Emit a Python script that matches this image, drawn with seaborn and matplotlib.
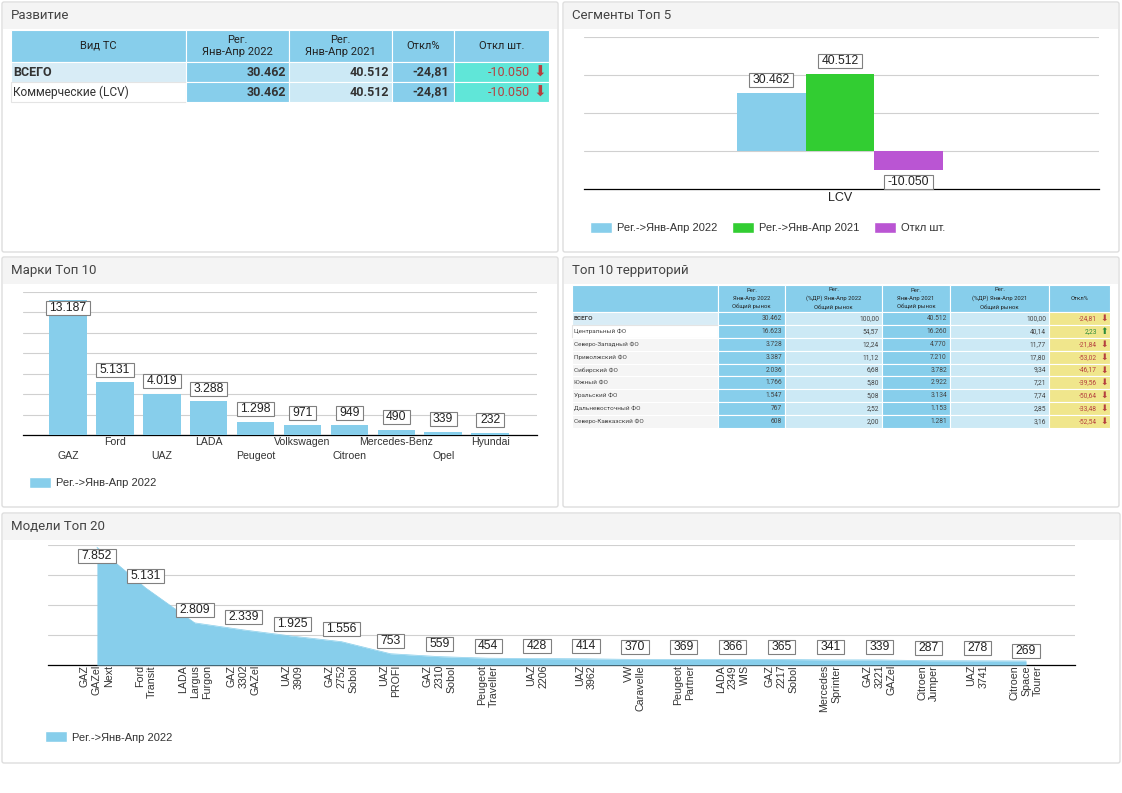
import matplotlib
matplotlib.use("Agg")
import matplotlib.pyplot as plt
from matplotlib.patches import Rectangle, Patch, FancyBboxPatch
from matplotlib.path import Path
import seaborn as sns
import pandas as pd

W, H = 1122, 793

# first table
dev_header = ["Вид ТС", "Рег.\nЯнв-Апр 2022", "Рег.\nЯнв-Апр 2021", "Откл%", "Откл шт."]
dev_names = ["ВСЕГО", "Коммерческие (LCV)"]
dev_2022 = ["30.462", "30.462"]
dev_2021 = ["40.512", "40.512"]
dev_pct = ["-24,81", "-24,81"]
dev_abs = ["-10.050", "-10.050"]

# segments
seg_names = ["Рег.->Янв-Апр 2022", "Рег.->Янв-Апр 2021", "Откл шт."]
seg_values = [30462, 40512, -10050]

# brands
brand_names = ["GAZ", "Ford", "UAZ", "LADA", "Peugeot", "Volkswagen", "Citroen", "Mercedes-Benz", "Opel", "Hyundai"]
brand_values = [13187, 5131, 4019, 3288, 1298, 971, 949, 490, 339, 232]

# territories
terr_header = ["", "Рег.\nЯнв-Апр 2022\nОбщий рынок", "Рег.\n(%ДР) Янв-Апр 2022\nОбщий рынок",
               "Рег.\nЯнв-Апр 2021\nОбщий рынок", "Рег.\n(%ДР) Янв-Апр 2021\nОбщий рынок", "Откл%"]
terr_names = ["ВСЕГО", "Центральный ФО", "Северо-Западный ФО", "Приволжский ФО", "Сибирский ФО",
              "Южный ФО", "Уральский ФО", "Дальневосточный ФО", "Северо-Кавказский ФО"]
terr_2022 = ["30.462", "16.623", "3.728", "3.387", "2.036", "1.766", "1.547", "767", "608"]
terr_share_2022 = ["100,00", "54,57", "12,24", "11,12", "6,68", "5,80", "5,08", "2,52", "2,00"]
terr_2021 = ["40.512", "16.260", "4.770", "7.210", "3.782", "2.922", "3.134", "1.153", "1.281"]
terr_share_2021 = ["100,00", "40,14", "11,77", "17,80", "9,34", "7,21", "7,74", "2,85", "3,16"]
terr_pct = ["-24,81", "2,23", "-21,84", "-53,02", "-46,17", "-39,56", "-50,64", "-33,48", "-52,54"]

# models
model_names = ["GAZ\nGAZel\nNext", "Ford\nTransit", "LADA\nLargus\nFurgon", "GAZ\n3302\nGAZel", "UAZ\n3909",
               "GAZ\n2752\nSobol", "UAZ\nPROFI", "GAZ\n2310\nSobol", "Peugeot\nTraveller", "UAZ\n2206",
               "UAZ\n3962", "VW\nCaravelle", "Peugeot\nPartner", "LADA\n2349\nWIS", "GAZ\n2217\nSobol",
               "Mercedes\nSprinter", "GAZ\n3221\nGAZel", "Citroen\nJumper", "UAZ\n3741", "Citroen\nSpace\nTourer"]
model_values = [7852, 5131, 2809, 2339, 1925, 1556, 753, 559, 454, 428, 414, 370, 369, 366, 365, 341, 339, 287, 278, 269]

BLUE = "#87CEEB"
LIGHT = "#CCE9F5"
TOTAL = "#D8ECF6"
GREEN = "#32CD32"
PURPLE = "#BA55D3"
TURQ = "#60E6D8"
KHAKI = "#F0E68C"
RED = "#B5403F"
DARK_GREEN = "#2E8B3A"
TXT = "#333333"

sns.set_theme(style="white")
plt.rcParams["font.family"] = ["Liberation Sans", "DejaVu Sans"]

fig = plt.figure(figsize=(W / 100, H / 100), dpi=100, facecolor="white")
bg = fig.add_axes([0, 0, 1, 1], zorder=0)
bg.set_xlim(0, W)
bg.set_ylim(H, 0)
bg.axis("off")


def fmt(v):
    return f"{v:,}".replace(",", ".")


def label_box(x0, y0, w, h, mutation_size):
    # wider at the sides than above and below
    px, py = 3.5, 1
    return Path([(x0 - px, y0 - py), (x0 + w + px, y0 - py), (x0 + w + px, y0 + h + py),
                 (x0 - px, y0 + h + py), (x0 - px, y0 - py)], closed=True)


def panel(x0, y0, x1, y1, title):
    bg.add_patch(FancyBboxPatch((x0, y0), x1 - x0, y1 - y0, boxstyle="round,pad=0,rounding_size=2",
                                fc="white", ec="#dddddd", lw=1))
    bg.add_patch(Rectangle((x0 + 1, y0 + 1), x1 - x0 - 2, 26, fc="#f4f4f4", ec="none"))
    bg.text(x0 + 9, y0 + 13.5, title, fontsize=9.5, family="Roboto", color="#444444", va="center")


def chart_ax(x0, y0, x1, y1):
    ax = fig.add_axes([x0 / W, 1 - y1 / H, (x1 - x0) / W, (y1 - y0) / H], zorder=2)
    ax.patch.set_alpha(0)
    for s in ax.spines.values():
        s.set_visible(False)
    ax.spines["bottom"].set_visible(True)
    ax.spines["bottom"].set_color("black")
    ax.spines["bottom"].set_linewidth(0.9)
    ax.tick_params(length=0, pad=3)
    return ax


def box_label(ax, x, y, v, dy):
    ax.annotate(fmt(v), (x, y), xytext=(0, dy), textcoords="offset pixels", ha="center", va="center",
                fontsize=8.7, color="#222222", zorder=5, annotation_clip=False,
                bbox=dict(boxstyle=label_box, fc="white", ec="#808080", lw=0.8))


def cell(x0, y0, x1, y1, color, text="", ha="right", size=8, weight="normal", tcolor=TXT, pad=4, ls=1.3):
    bg.add_patch(Rectangle((x0, y0), x1 - x0, y1 - y0, fc=color, ec="white" if color != "white" else "#e4e4e4", lw=0.8))
    if text:
        tx = {"right": x1 - pad, "left": x0 + pad, "center": (x0 + x1) / 2}[ha]
        bg.text(tx, (y0 + y1) / 2, text, ha=ha, va="center", fontsize=size, fontweight=weight,
                color=tcolor, family="Roboto", linespacing=ls)


def legend(ax, names, colors, x, y, ncol=1):
    ax.legend(handles=[Patch(fc=c, label=n) for c, n in zip(colors, names)], loc="center left",
              bbox_to_anchor=(x / W, 1 - y / H), bbox_transform=fig.transFigure, ncol=ncol, frameon=False,
              fontsize=8, handlelength=2.0, handleheight=1.15, columnspacing=1.35, handletextpad=0.4,
              borderpad=0, borderaxespad=0, labelcolor="#333333")


panel(2, 2, 558, 252, "Развитие")
panel(563, 2, 1119, 252, "Сегменты Топ 5")
panel(2, 257, 558, 507, "Марки Топ 10")
panel(563, 257, 1119, 507, "Топ 10 территорий")
panel(2, 513, 1120, 763, "Модели Топ 20")

# table Развитие
xs = [11, 186, 289, 392, 454, 549]
ys = [30, 62, 82, 102]
for i, t in enumerate(dev_header):
    cell(xs[i], ys[0], xs[i + 1], ys[1], BLUE, t, ha="center", size=8, tcolor="#222222")
for r, name in enumerate(dev_names):
    y0, y1 = ys[r + 1], ys[r + 2]
    cell(xs[0], y0, xs[1], y1, TOTAL if r == 0 else "white", name, ha="left", size=9 if r == 0 else 8.6,
         weight="bold" if r == 0 else "normal", pad=2)
    cell(xs[1], y0, xs[2], y1, BLUE, dev_2022[r], size=9, weight="bold", pad=3)
    cell(xs[2], y0, xs[3], y1, LIGHT, dev_2021[r], size=9, weight="bold", pad=3)
    cell(xs[3], y0, xs[4], y1, BLUE, dev_pct[r], size=9, weight="bold", pad=5)
    cell(xs[4], y0, xs[5], y1, TURQ, dev_abs[r], size=9, tcolor=RED, pad=19)
    bg.text(xs[5] - 9, (y0 + y1) / 2, "⬇", ha="center", va="center", fontsize=11,
            color=RED, family="DejaVu Sans")

# segments chart
seg_df = pd.DataFrame({"group": ["LCV"] * 3, "name": seg_names, "value": seg_values})
ax = chart_ax(584, 36.5, 1099, 189)
sns.barplot(data=seg_df, x="group", y="value", hue="name", hue_order=seg_names, palette=[BLUE, GREEN, PURPLE],
            width=0.4, gap=0, saturation=1, linewidth=0, ax=ax, legend=False, zorder=3)
ax.set_xlim(-0.497, 0.503)
ax.set_ylim(-20000, 60000)
ax.set_yticks([0, 20000, 40000, 60000])
ax.set_yticklabels([])
ax.yaxis.grid(True, color="#d0d0d0", lw=0.8)
ax.set_axisbelow(True)
ax.set_xlabel("")
ax.set_ylabel("")
ax.tick_params(axis="x", labelsize=9, pad=2, labelcolor="#222222")
for bars, v in zip(ax.containers, seg_values):
    b = bars[0]
    box_label(ax, b.get_x() + b.get_width() / 2, v, v, 13 if v > 0 else -11.5)
legend(ax, seg_names, [BLUE, GREEN, PURPLE], 590, 227.5, ncol=3)

# brands chart
brand_df = pd.DataFrame({"brand": brand_names, "value": brand_values})
ax = chart_ax(23, 291.5, 537, 435)
sns.barplot(data=brand_df, x="brand", y="value", color=BLUE, width=0.8, saturation=1, linewidth=0, ax=ax, zorder=3)
ax.set_xlim(-0.96, 10.0)
ax.set_ylim(0, 14000)
ax.set_yticks(range(0, 14001, 2000))
ax.set_yticklabels([])
ax.yaxis.grid(True, color="#d0d0d0", lw=0.8)
ax.set_axisbelow(True)
ax.set_xlabel("")
ax.set_ylabel("")
ax.tick_params(axis="x", labelsize=7.6, labelcolor="#333333", pad=1.5)
for i, lab in enumerate(ax.get_xticklabels()):
    lab.set_y(-0.098 if i % 2 == 0 else 0)
for i, v in enumerate(brand_values):
    box_label(ax, i, v, v, -8.5 if i == 0 else 12.5)
legend(ax, seg_names[:1], [BLUE], 29, 482.5)

# table территории
tx = [572, 718, 785, 882, 950, 1049, 1110]
ty = [285, 312] + [312 + round((428 - 312) * (i + 1) / 9) for i in range(9)]
for i, t in enumerate(terr_header):
    cell(tx[i], ty[0], tx[i + 1], ty[1], BLUE, t, ha="center", size=4.2, tcolor="#222222", ls=1.65)
for r, name in enumerate(terr_names):
    y0, y1 = ty[r + 1], ty[r + 2]
    row_col = TOTAL if r == 0 else ("white" if r == 1 else "#f5f5f5")
    cell(tx[0], y0, tx[1], y1, row_col, name, ha="left", size=4.6, weight="bold" if r == 0 else "normal",
         pad=2, tcolor="#444444")
    cell(tx[1], y0, tx[2], y1, BLUE, terr_2022[r], size=4.8, pad=3, tcolor="#444444")
    cell(tx[2], y0, tx[3], y1, LIGHT, terr_share_2022[r], size=4.8, pad=3, tcolor="#444444")
    cell(tx[3], y0, tx[4], y1, BLUE, terr_2021[r], size=4.8, pad=3, tcolor="#444444")
    cell(tx[4], y0, tx[5], y1, LIGHT, terr_share_2021[r], size=4.8, pad=3, tcolor="#444444")
    up = not terr_pct[r].startswith("-")
    col = DARK_GREEN if up else RED
    cell(tx[5], y0, tx[6], y1, KHAKI, terr_pct[r], size=4.8, tcolor=col, pad=13)
    bg.text(tx[6] - 6, (y0 + y1) / 2, "⬆" if up else "⬇", ha="center", va="center", fontsize=6.5,
            color=col, family="DejaVu Sans")

# models chart
model_df = pd.DataFrame({"pos": range(len(model_values)), "value": model_values})
ax = chart_ax(48, 545, 1075, 665)
sns.lineplot(data=model_df, x="pos", y="value", color=BLUE, lw=0.5, ax=ax, zorder=3)
ax.fill_between(model_df["pos"], model_df["value"], color=BLUE, lw=0, zorder=3)
ax.set_xlim(-1, 20)
ax.set_ylim(0, 8000)
ax.set_yticks(range(0, 8001, 2000))
ax.set_yticklabels([])
ax.yaxis.grid(True, color="#d0d0d0", lw=0.8)
ax.set_axisbelow(True)
ax.set_xlabel("")
ax.set_ylabel("")
ax.set_xticks(model_df["pos"])
ax.set_xticklabels(model_names, rotation=90, fontsize=7.7, color="#333333", ma="right", linespacing=1.25)
ax.tick_params(axis="x", pad=0)
for i, v in enumerate(model_values):
    dy = 12.5
    if i == 0:
        dy = -9
    elif i == len(model_values) - 1:
        dy = 10
    box_label(ax, i, v, v, dy)
legend(ax, seg_names[:1], [BLUE], 45, 737)

fig.savefig("out.png", dpi=100, facecolor="white")
